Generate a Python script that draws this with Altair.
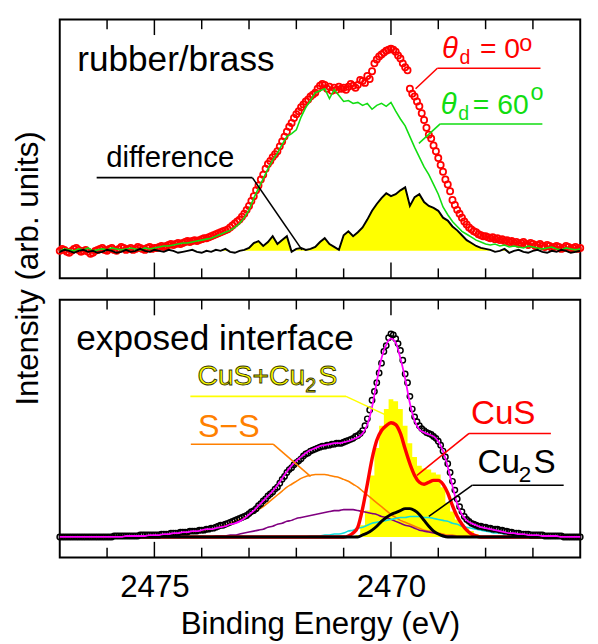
import altair as alt
import pandas as pd

FONT = "Liberation Sans"
E_START = 2477.0
FINE_STEP = 0.05
COARSE_STEP = 0.1

# ---------------- top panel (rubber/brass) ----------------
theta0_top = [
    28, 30, 29, 27, 26, 28, 30, 31, 29, 27, 28, 29, 27, 25, 26, 28, 29, 30, 31, 29,
    28, 30, 31, 29, 28, 30, 32, 31, 29, 30, 31, 29, 30, 32, 31, 30, 29, 31, 32, 30, 31,
    31, 32, 33, 32, 33, 34, 35, 34, 35, 36, 35, 36, 37, 38, 37, 38, 39, 38, 39, 40,
    41, 41, 42, 43, 44, 45, 46, 47, 48, 49, 50, 52, 54, 56, 58, 60, 63, 66, 70, 74,
    79, 84, 90, 95, 101, 106, 112, 117, 120, 124, 127, 130, 135, 140, 145, 150, 155, 159, 164, 168,
    171, 175, 178, 181, 183, 186, 188, 190, 194, 197, 199, 198, 194, 196, 192, 195, 193, 196, 194, 195,
    193, 196, 199, 197, 195, 198, 203, 202, 200, 207, 204, 212, 220, 224, 227, 229, 231, 233, 234, 235,
    234, 232, 228, 225, 220, 216, 213, 194, 189, 186, 181, 176, 169, 162, 154, 147, 143, 136, 130, 123,
    116, 109, 101, 96, 89, 80, 75, 70, 66, 62, 58, 55, 52, 50, 48, 47, 45, 44, 43, 43,
    42, 41, 42, 40, 41, 39, 40, 38, 39, 37, 38, 36, 37, 35, 36, 37, 35, 34, 36, 35,
    33, 34, 35, 33, 32, 34, 33, 31, 32, 33, 32, 30, 31, 33, 32, 30, 31, 32, 30, 31,
]
theta60_top = [
    28, 30, 29, 28, 30, 29, 31, 28, 29, 30, 29, 31, 30, 29, 30, 31, 30, 29, 31, 30, 31,
    32, 33, 33, 34, 35, 36, 36, 37, 38, 39, 40, 41, 43, 45, 47, 49, 52, 56, 62, 70,
    82, 92, 102, 112, 121, 128, 137, 145, 148, 152, 165, 175, 182, 190, 192, 194, 184, 193, 187, 181,
    182, 179, 180, 177, 179, 173, 177, 179, 176, 180, 171, 163, 156, 145, 134, 124, 114, 106, 96, 86,
    73, 65, 58, 53, 48, 45, 42, 39, 37, 35,
    34, 35, 33, 34, 32, 33, 32, 31, 33, 32, 31, 30, 31, 32, 30, 29, 31, 30, 29, 30,
]
difference_top = [
    27, 29, 28, 26, 28, 29, 27, 28, 26, 27, 29,
    28, 26, 27, 29, 27, 28, 30, 28, 27, 29,
    28, 27, 29, 28, 26, 27, 28, 29, 27, 26,
    28, 27, 29, 28, 30, 27, 26, 28, 29, 31,
    36, 38, 33, 37, 43, 35, 39, 43, 27, 30,
    31, 29, 30, 32, 37, 41, 35, 32, 29, 44,
    48, 43, 47, 52, 60, 69, 76, 82, 87, 84,
    86, 90, 93, 74, 83, 86, 78, 74, 72, 69,
    62, 59, 53, 49, 44, 39, 36, 33, 31, 30,
    29, 27, 28, 30, 26, 28, 29, 27, 26, 28, 29, 27, 26, 28, 27, 29, 28, 26, 27, 28,
]
TOP_BASE = 28

# ---------------- bottom panel (exposed interface) ----------------
data_bot = [
    21, 21, 21, 21, 21, 21, 21, 21, 21, 21, 21, 21, 21, 21, 21, 21, 21, 21, 21, 21,
    21, 21, 21, 22, 22, 22, 22, 22, 22, 22, 22, 22, 22, 22, 23, 23, 23, 23, 23, 23, 23,
    23, 23, 24, 24, 24, 24, 25, 25, 25, 25, 26, 26, 26, 26, 27, 27, 27, 27, 28, 28,
    28, 29, 29, 30, 30, 31, 32, 33, 33, 34, 35, 36, 37, 38, 39, 40, 41, 42, 43, 45,
    47, 48, 50, 53, 55, 58, 60, 63, 65, 67, 70, 72, 76, 80, 83, 87, 90, 92, 95, 97,
    99, 101, 104, 106, 107, 109, 110, 111, 112, 113, 114, 114, 115, 115, 116, 116, 117, 117, 117, 118,
    119, 120, 121, 122, 124, 125, 127, 130, 135, 142, 151, 161, 170, 179, 189, 199, 211, 217, 225, 229,
    228, 224, 219, 212, 202, 188, 179, 165, 152, 144, 139, 135, 132, 130, 128, 127, 126, 124, 122, 119,
    115, 109, 103, 96, 87, 78, 69, 60, 52, 47, 42, 39, 37, 35, 34, 33, 32, 32, 31, 31,
    30, 30, 29, 29, 29, 28, 28, 27, 27, 26, 26, 25, 25, 25, 24, 24, 24, 24, 23, 23,
    23, 23, 23, 23, 22, 22, 22, 22, 22, 22, 22, 22, 21, 21, 21, 21, 21, 21, 21, 21,
]
fit_bot = [
    21, 21, 21, 21, 21, 21, 21, 21, 21, 21, 21, 21, 21, 21, 22, 22, 22, 22, 22, 23, 23,
    23, 24, 24, 25, 25, 26, 26, 27, 27, 28, 29, 29, 30, 31, 32, 34, 35, 37, 40, 44,
    48, 53, 58, 63, 68, 74, 81, 88, 94, 99, 103, 107, 110, 112, 114, 115, 116, 117, 117, 118,
    119, 121, 123, 127, 136, 154, 180, 204, 218, 224,
    220, 204, 183, 158, 140, 131, 128, 126, 124, 119,
    109, 93, 73, 55, 44, 38, 35, 33, 31, 30,
    29, 28, 27, 26, 25, 25, 24, 24, 23, 23, 23, 22, 22, 22, 22, 21, 21, 21, 21, 21,
]
ss_bot = (
    [21] * 15
    + [21, 21, 21, 22, 22, 22, 22, 23, 23, 23, 24, 24, 25, 26, 26, 27]
    + [28, 29, 30, 32, 33, 35, 37, 39, 41, 43]
    + [46, 49, 52, 56, 60, 64, 68, 72, 75, 78]
    + [81, 83, 84, 85, 85, 85, 84, 83, 82, 80]
    + [78, 75, 72, 68, 64, 60, 56, 52, 48, 44]
    + [41, 38, 36, 34, 32, 30, 28, 27, 26, 25]
    + [24, 23, 23, 22, 22, 22, 21, 21, 21, 21]
    + [21] * 20
)
purple_bot = (
    [21] * 31
    + [21, 21, 22, 22, 22, 23, 23, 24, 25, 26]
    + [27, 28, 29, 31, 32, 34, 35, 37, 38, 40]
    + [41, 42, 43, 44, 45, 46, 47, 48, 48, 49]
    + [49, 49, 48, 47, 46, 45, 44, 42, 41, 39]
    + [37, 35, 33, 32, 30, 28, 27, 26, 25, 24]
    + [23, 22, 22, 21, 21, 21, 21, 21, 21, 21]
    + [21] * 20
)
cyan_bot = (
    [21] * 51
    + [21, 21, 22, 22, 22, 23, 23, 24, 24, 25]
    + [27, 28, 30, 31, 33, 35, 36, 37, 38, 39]
    + [40, 41, 41, 42, 42, 42, 41, 41, 40, 39]
    + [38, 37, 35, 34, 32, 31, 30, 29, 28, 27]
    + [26, 25, 25, 24, 24, 23, 23, 23, 22, 22, 22, 22, 21, 21, 21, 21, 21, 21, 21, 21]
)
cus_bot = (
    [21] * 61
    + [22, 25, 31, 50, 75, 101, 120, 130, 135, 138]
    + [136, 127, 111, 96, 84, 77, 75, 77, 79, 79]
    + [75, 66, 53, 42, 34, 28, 24, 22, 21, 21]
    + [21] * 20
)
cu2s_bot = (
    [21] * 64
    + [23, 25, 28, 32, 37, 41, 44, 46, 48, 50, 50, 48, 44, 38, 32, 27, 24, 22]
    + [21] * 29
)
sum_bot = (
    [21] * 63
    + [23, 33, 48, 84, 112, 135, 152, 162, 160, 152, 135, 117, 103, 94, 91, 90, 87, 85,
       72, 56, 47, 39, 34, 30, 27, 24, 22]
    + [21] * 21
)
BOT_BASE = 21

TICKS_MINOR = [2476, 2474, 2473, 2472, 2471, 2469, 2468, 2467]
TICKS_MAJOR = [2475, 2470]
X_LABELS = [2475, 2470]

fine_E = [round(E_START - FINE_STEP * i, 2) for i in range(len(theta0_top))]
coarse_E = [round(E_START - COARSE_STEP * j, 2) for j in range(len(theta60_top))]

top_fine = pd.DataFrame({"E": fine_E, "I": theta0_top})
top_coarse = pd.DataFrame({"E": coarse_E, "G": theta60_top, "D": difference_top})
bot_fine = pd.DataFrame({"E": fine_E, "I": data_bot})
bot_coarse = pd.DataFrame({
    "E": coarse_E, "fit": fit_bot, "ss": ss_bot, "pu": purple_bot, "cy": cyan_bot,
    "cus": cus_bot, "cu2s": cu2s_bot, "sum": sum_bot,
})

W, H1, H2 = 533, 265, 264
xs = alt.Scale(domain=[2477, 2466], nice=False, zero=False)
ys1 = alt.Scale(domain=[0, 265], nice=False, zero=False)
ys2 = alt.Scale(domain=[0, 264], nice=False, zero=False)

bottom_axis = alt.Axis(
    values=X_LABELS, format="d", title="Binding Energy (eV)",
    labelFont=FONT, labelFontSize=32, labelColor="black", labelPadding=15,
    labelFlush=False, titleFont=FONT, titleFontSize=32, titleFontWeight="normal",
    titleColor="black", titlePadding=7, domain=False, ticks=False, tickSize=0, grid=False,
)


def X(field, axis):
    return alt.X(field, type="quantitative", scale=xs, axis=axis)


def Y(field, ys):
    return alt.Y(field, type="quantitative", scale=ys, axis=None)


def tick_layers(H, axis):
    out = []
    for vals, L in ((TICKS_MINOR, 10), (TICKS_MAJOR, 16)):
        df = pd.DataFrame({"E": vals})
        out.append(alt.Chart(df).mark_rule(color="black", strokeWidth=1.5).encode(
            x=X("E", axis), y=alt.value(0), y2=alt.value(L)))
        out.append(alt.Chart(df).mark_rule(color="black", strokeWidth=1.5).encode(
            x=X("E", axis), y=alt.value(H), y2=alt.value(H - L)))
    return out


def txt(E, I, s, size, color, axis, ys, italic=False, stroke=None):
    df = pd.DataFrame({"E": [E], "I": [I], "t": [s]})
    kw = dict(align="left", baseline="alphabetic", font=FONT, fontSize=size, color=color)
    if italic:
        kw["fontStyle"] = "italic"
    if stroke:
        kw["stroke"] = stroke
        kw["strokeWidth"] = 0.9
    return alt.Chart(df).mark_text(**kw).encode(x=X("E", axis), y=Y("I", ys), text="t:N")


def leader(segs, color, axis, ys, width=1.6):
    df = pd.DataFrame(segs, columns=["E1", "I1", "E2", "I2"])
    return alt.Chart(df).mark_rule(color=color, strokeWidth=width).encode(
        x=X("E1", axis), x2="E2", y=Y("I1", ys), y2="I2")


# ---------------- top panel layers ----------------
A = None
top_layers = [
    alt.Chart(top_coarse).transform_calculate(Df=f"max(datum.D, {TOP_BASE})")
    .mark_area(color="#ffff00", interpolate="linear")
    .encode(x=X("E", A), y=Y("Df:Q", ys1), y2=alt.datum(TOP_BASE)),
    alt.Chart(top_fine).mark_point(shape="circle", filled=False, color="#ff0000",
                                   size=40, strokeWidth=1.8, opacity=1)
    .encode(x=X("E", A), y=Y("I", ys1)),
    alt.Chart(top_coarse).mark_line(color="#11dd11", strokeWidth=1.6)
    .encode(x=X("E", A), y=Y("G", ys1)),
    alt.Chart(top_coarse).mark_line(color="black", strokeWidth=2)
    .encode(x=X("E", A), y=Y("D", ys1)),
    leader([(2469.02, 215, 2466.84, 215), (2469.02, 215, 2469.48, 194)], "#ff0000", A, ys1),
    leader([(2468.96, 158, 2466.80, 158), (2468.96, 158, 2469.41, 138)], "#11dd11", A, ys1),
    leader([(2476.22, 103, 2472.93, 103), (2472.93, 103, 2471.88, 29)], "black", A, ys1),
    txt(2476.63, 212, "rubber/brass", 36, "black", A, ys1),
    txt(2468.92, 226, "θ", 30, "#ff0000", A, ys1, italic=True),
    txt(2468.55, 219, "d", 20, "#ff0000", A, ys1),
    txt(2468.12, 226, "= 0", 29, "#ff0000", A, ys1),
    txt(2467.29, 233, "o", 24, "#ff0000", A, ys1),
    txt(2468.95, 168, "θ", 30, "#11dd11", A, ys1, italic=True),
    txt(2468.58, 162, "d", 20, "#11dd11", A, ys1),
    txt(2468.27, 168, "= 60", 29, "#11dd11", A, ys1),
    txt(2467.05, 182, "o", 24, "#11dd11", A, ys1),
    txt(2476.02, 114, "difference", 30, "black", A, ys1),
    alt.Chart(pd.DataFrame({"t": ["Intensity (arb. units)"]}))
    .mark_text(angle=270, align="center", baseline="alphabetic", font=FONT, fontSize=32, color="black")
    .encode(x=alt.value(-22), y=alt.value(255), text="t:N"),
] + tick_layers(H1, A)

top = alt.layer(*top_layers).properties(width=W, height=H1)

# ---------------- bottom panel layers ----------------
B = bottom_axis
bot_layers = [
    alt.Chart(bot_coarse).mark_area(color="#ffff00", interpolate="step")
    .encode(x=X("E", B), y=Y("sum", ys2), y2=alt.datum(BOT_BASE)),
    alt.Chart(bot_coarse).mark_line(color="#ff8000", strokeWidth=1.6, interpolate="monotone")
    .encode(x=X("E", B), y=Y("ss", ys2)),
    alt.Chart(bot_coarse).mark_line(color="#800080", strokeWidth=1.6, interpolate="monotone")
    .encode(x=X("E", B), y=Y("pu", ys2)),
    alt.Chart(bot_coarse).mark_line(color="#11dddd", strokeWidth=1.6, interpolate="monotone")
    .encode(x=X("E", B), y=Y("cy", ys2)),
    alt.Chart(bot_coarse).mark_line(color="#ff0000", strokeWidth=3.5, interpolate="monotone")
    .encode(x=X("E", B), y=Y("cus", ys2)),
    alt.Chart(bot_coarse).mark_line(color="black", strokeWidth=3, interpolate="monotone")
    .encode(x=X("E", B), y=Y("cu2s", ys2)),
    alt.Chart(bot_fine).mark_point(shape="circle", filled=False, color="black",
                                   size=30, strokeWidth=1.5, opacity=1)
    .encode(x=X("E", B), y=Y("I", ys2)),
    alt.Chart(bot_coarse).mark_line(color="#ff00ff", strokeWidth=1.8, interpolate="monotone")
    .encode(x=X("E", B), y=Y("fit", ys2)),
    leader([(2474.24, 165, 2470.95, 165), (2470.95, 165, 2470.07, 145)], "#ffff00", B, ys2),
    leader([(2474.23, 116, 2472.49, 116), (2472.49, 116, 2471.70, 83)], "#ff8000", B, ys2),
    leader([(2468.35, 127, 2466.62, 127), (2468.35, 127, 2469.45, 84)], "#ff0000", B, ys2),
    leader([(2468.28, 74, 2466.35, 74), (2468.28, 74, 2469.20, 42)], "black", B, ys2),
    txt(2476.65, 212, "exposed interface", 36, "black", B, ys2),
    txt(2474.09, 177, "CuS+Cu", 29, "#ffff00", B, ys2, stroke="#333300"),
    txt(2471.81, 169, "2", 20, "#ffff00", B, ys2, stroke="#333300"),
    txt(2471.53, 177, "S", 29, "#ffff00", B, ys2, stroke="#333300"),
    txt(2474.08, 123, "S\u2212S", 33, "#ff8000", B, ys2),
    txt(2468.31, 137, "CuS", 34, "#ff0000", B, ys2),
    txt(2468.17, 87, "Cu", 34, "black", B, ys2),
    txt(2467.30, 77, "2", 23, "black", B, ys2),
    txt(2466.99, 87, "S", 34, "black", B, ys2),
] + tick_layers(H2, B)

bottom = alt.layer(*bot_layers).properties(width=W, height=H2)

chart = (
    alt.vconcat(top, bottom, spacing=22, bounds="flush")
    .properties(padding={"left": 3, "top": 2, "right": 2, "bottom": 0})
    .configure(font=FONT)
    .configure_view(stroke="black", strokeWidth=2)
)

chart.save("out.html", embed_options={"renderer": "svg", "actions": False})
